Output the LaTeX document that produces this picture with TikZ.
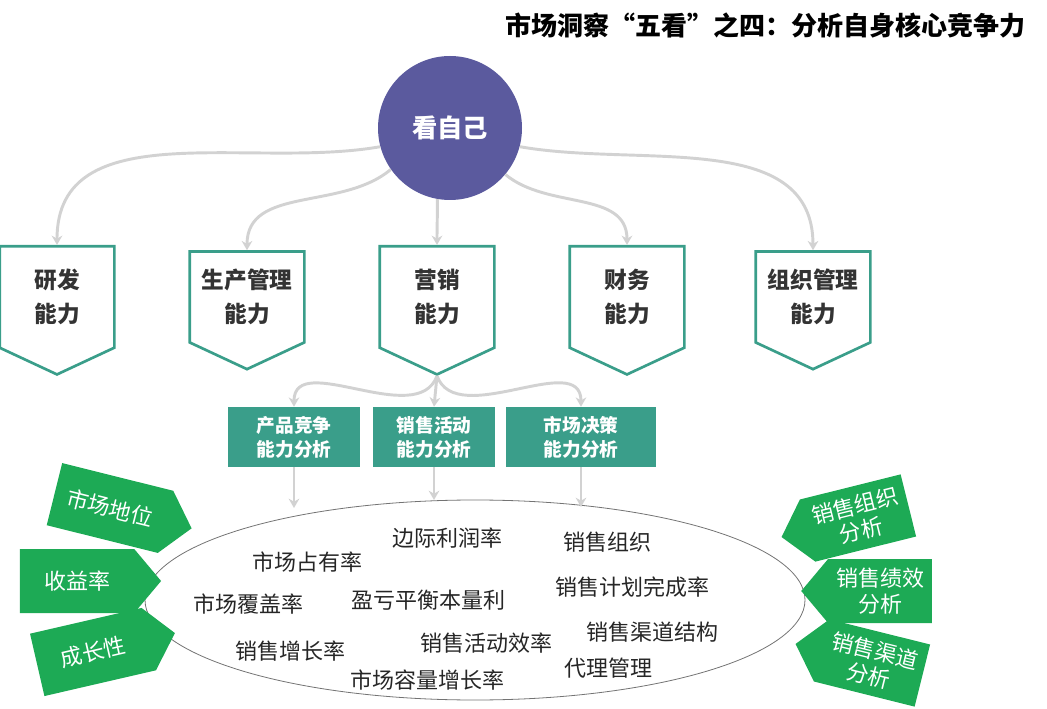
\documentclass[tikz,border=0pt]{standalone}
\usepackage{fontspec}
\setmainfont{Noto Sans CJK SC}
\usetikzlibrary{shapes.symbols, shapes.geometric, arrows.meta}
\definecolor{selfblue}{HTML}{5B5A9E}
\definecolor{teal}{HTML}{3A9E8A}
\definecolor{leaf}{HTML}{1DAA55}
\definecolor{link}{HTML}{D2D2D2}
\tikzstyle{ability} = [signal, signal to=south, signal pointer angle=130, minimum width=86pt, minimum height=84pt, draw=teal, line width=2pt, fill=white, align=center, font=\bfseries\fontsize{17}{25}\selectfont, text=black!80, inner sep=0pt]
\tikzstyle{sub} = [rectangle, fill=teal, text=white, align=center, font=\bfseries\fontsize{14}{18}\selectfont, minimum height=45pt, inner sep=2pt]
\tikzstyle{tagr} = [signal, signal to=east, signal pointer angle=100, fill=leaf, text=white, font=\fontsize{16.5}{19}\selectfont, minimum width=106pt, minimum height=48pt, align=center]
\tikzstyle{tagl} = [signal, signal to=west, signal pointer angle=100, fill=leaf, text=white, font=\fontsize{16.5}{19}\selectfont, minimum width=98pt, minimum height=48pt, align=center]
\tikzstyle{item} = [font=\fontsize{16.5}{19}\selectfont, text=black!85]
\tikzstyle{arrow} = [draw=link, line width=2.2pt, -{Stealth[length=7pt,width=8pt]}]
\begin{document}
\begin{tikzpicture}[x=0.75pt,y=0.75pt]
\useasboundingbox (0,0) rectangle (1047,-709);
\node (title) [anchor=east, font=\bfseries\fontsize{19.5}{22}\selectfont] at (1030,-25) {市场洞察“五看”之四：分析自身核心竞争力};
\node (me) [circle, fill=selfblue, minimum size=108pt, text=white, font=\bfseries\fontsize{19}{22}\selectfont] at (450,-128) {看自己};
% five abilities
\node (rd) [ability] at (57,-297) {研发\\能力};
\node (prod) [ability] at (247,-297) {生产管理\\能力};
\node (mkt) [ability] at (437,-297) {营销\\能力};
\node (fin) [ability] at (627,-297) {财务\\能力};
\node (org) [ability] at (813,-297) {组织管理\\能力};
\draw [arrow] (me.195) to[out=190,in=90] (rd.north);
\draw [arrow] (me.215) to[out=220,in=90] (prod.north);
\draw [arrow] (me.260) to[out=270,in=90] (mkt.north);
\draw [arrow] (me.320) to[out=320,in=90] (fin.north);
\draw [arrow] (me.345) to[out=350,in=90] (org.north);
% marketing analysis
\node (comp) [sub, minimum width=99pt] at (294,-437) {产品竞争\\能力分析};
\node (act) [sub, minimum width=91pt] at (434,-437) {销售活动\\能力分析};
\node (dec) [sub, minimum width=112pt] at (581,-437) {市场决策\\能力分析};
\draw [arrow] (mkt.south) to[out=250,in=90] (comp.north);
\draw [arrow] (mkt.south) -- (act.north);
\draw [arrow] (mkt.south) to[out=290,in=90] (dec.north);
\node (scope) [ellipse, draw=black!55, line width=0.6pt, minimum width=495pt, minimum height=150pt] at (475,-600) {};
\draw [arrow] (comp.south) -- (comp.south |- 0,-508);
\draw [arrow] (act.south) -- (act.south |- 0,-500);
\draw [arrow] (dec.south) -- (dec.south |- 0,-507);
% indicators
\node (i1) [item] at (447,-538) {边际利润率};
\node (i2) [item] at (607,-542) {销售组织};
\node (i3) [item] at (307,-562) {市场占有率};
\node (i4) [item] at (632,-587) {销售计划完成率};
\node (i5) [item] at (248,-604) {市场覆盖率};
\node (i6) [item] at (428,-600) {盈亏平衡本量利};
\node (i7) [item] at (652,-632) {销售渠道结构};
\node (i8) [item] at (290,-651) {销售增长率};
\node (i9) [item] at (486,-643) {销售活动效率};
\node (i10) [item] at (608,-668) {代理管理};
\node (i11) [item] at (427,-680) {市场容量增长率};
% side tags
\node (pos) [tagr, rotate=-14] at (110,-508) {市场地位};
\node (rev) [tagr] at (77,-581) {收益率};
\node (grow) [tagr, rotate=13] at (93,-652) {成长性};
\node (sorg) [tagl, rotate=14] at (858,-518) {销售组织\\分析};
\node (sperf) [tagl] at (880,-591) {销售绩效\\分析};
\node (schan) [tagl, rotate=-14] at (872,-663) {销售渠道\\分析};
\end{tikzpicture}
\end{document}
